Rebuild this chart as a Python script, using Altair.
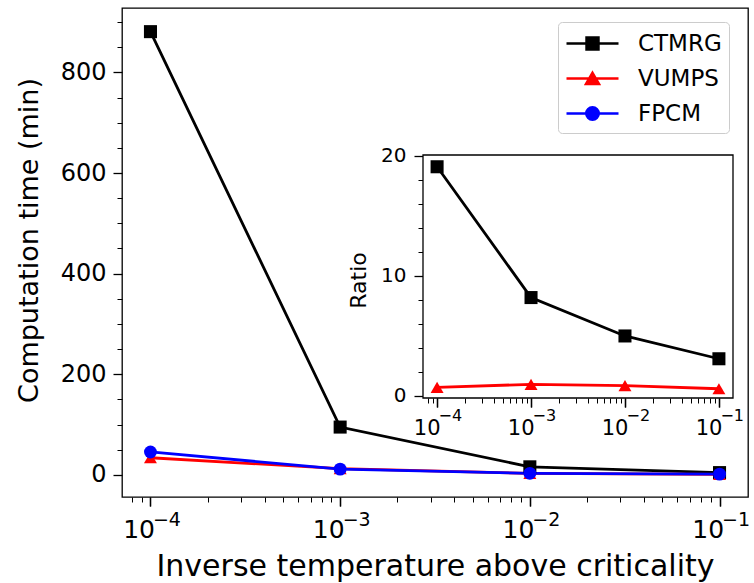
import altair as alt
import pandas as pd

# ---------------- data ----------------
beta = [1e-4, 1e-3, 1e-2, 1e-1]
series_names = ["CTMRG", "VUMPS", "FPCM"]
series_colors = ["#000000", "#ff0000", "#0000ff"]
series_shapes = ["square", "triangle-up", "circle"]

time_ctmrg = [881, 95, 16, 4.5]
time_vumps = [34, 12.5, 2.9, 1.0]
time_fpcm = [45.5, 11.4, 3.1, 1.4]

ratio_ctmrg = [19.1, 8.2, 5.0, 3.1]
ratio_vumps = [0.72, 0.97, 0.86, 0.6]

x_major = [1e-4, 1e-3, 1e-2, 1e-1]
x_minor = [8e-5, 9e-5,
           2e-4, 3e-4, 4e-4, 5e-4, 6e-4, 7e-4, 8e-4, 9e-4,
           2e-3, 3e-3, 4e-3, 5e-3, 6e-3, 7e-3, 8e-3, 9e-3,
           2e-2, 3e-2, 4e-2, 5e-2, 6e-2, 7e-2, 8e-2, 9e-2]
y_major = [0, 200, 400, 600, 800]
y_minor = [50, 100, 150, 250, 300, 350, 450, 500, 550, 650, 700, 750, 850, 900]
r_major = [0, 10, 20]
r_minor = [2, 4, 6, 8, 12, 14, 16, 18]

# legend symbols: line segment with marker (custom SVG paths)
legend_paths = [
    "M-1,0 H3 M0.54,-0.46 H1.46 V0.46 H0.54 Z",
    "M-1,0 H3 M1,-0.44 L1.5,0.42 L0.5,0.42 Z",
    "M-1,0 H3 M1.48,0 A0.48,0.48 0 1,1 0.52,0 A0.48,0.48 0 1,1 1.48,0 Z",
]

rows = []
for name, col, shp, vals in zip(series_names, series_colors, series_shapes,
                                [time_ctmrg, time_vumps, time_fpcm]):
    for b, v in zip(beta, vals):
        rows.append(dict(beta=b, value=v, series=name, col=col, shp=shp))
df_time = pd.DataFrame(rows)

rows = []
for name, col, shp, vals in zip(series_names[:2], series_colors[:2], series_shapes[:2],
                                [ratio_ctmrg, ratio_vumps]):
    for b, v in zip(beta, vals):
        rows.append(dict(beta=b, ratio=v, series=name, col=col, shp=shp))
df_ratio = pd.DataFrame(rows)

# ---------------- geometry ----------------
FONT = "DejaVu Sans"
W, H = 626, 489
X_DOM = [10 ** -4.15, 10 ** -0.85]
Y_DOM = [-44, 928]
R_DOM = [-0.17, 20.08]
INSET_X_RANGE = [301, 611]
INSET_Y_RANGE = [390, 147]
LW = 2.8

base_expr = "'10'"
exp_expr = ("datum.value < 0.0005 ? '\u22124' : datum.value < 0.005 ? '\u22123' : "
            "datum.value < 0.05 ? '\u22122' : '\u22121'")

main_x = alt.Scale(type="log", domain=X_DOM, nice=False)
main_y = alt.Scale(domain=Y_DOM, nice=False, zero=False)

ax_x_major = alt.Axis(values=x_major, labelExpr=base_expr, orient="bottom",
                      title="Inverse temperature above criticality",
                      titleFontSize=30, labelFontSize=25, tickSize=9, tickWidth=1.3,
                      labelAlign="right", labelOffset=4,
                      labelPadding=11, minExtent=40, maxExtent=40, titlePadding=14,
                      domain=False, grid=False)
ax_x_exp = alt.Axis(values=x_major, labelExpr=exp_expr, orient="bottom", title=None,
                    labelFontSize=19, labelAlign="left", labelOffset=2, labelPadding=4,
                    tickSize=9, tickWidth=1.3, domain=False, grid=False)
ax_y_major = alt.Axis(values=y_major, orient="left", title="Computation time (min)",
                      titleFontSize=27, labelFontSize=24, tickSize=9, tickWidth=1.3,
                      labelPadding=7, minExtent=62, maxExtent=62, titlePadding=17,
                      titleY=232, domain=False, grid=False)
ax_x_minor = alt.Axis(values=x_minor, labels=False, orient="bottom", title=None,
                      tickSize=5, tickWidth=1.0, domain=False, grid=False)
ax_y_minor = alt.Axis(values=y_minor, labels=False, orient="left", title=None,
                      tickSize=5, tickWidth=1.0, domain=False, grid=False)

lines = alt.Chart(df_time).mark_line(strokeWidth=LW).encode(
    x=alt.X("beta:Q", scale=main_x, axis=ax_x_major),
    y=alt.Y("value:Q", scale=main_y, axis=ax_y_major),
    color=alt.Color("col:N", scale=None),
    detail="series:N",
)

size_scale = alt.Scale(domain=series_shapes, range=[170, 165, 155])

points = alt.Chart(df_time).mark_point(filled=True, opacity=1).encode(
    x=alt.X("beta:Q", scale=main_x, axis=ax_x_minor),
    y=alt.Y("value:Q", scale=main_y, axis=ax_y_minor),
    color=alt.Color("col:N", scale=None),
    shape=alt.Shape("shp:N", scale=None),
    size=alt.Size("shp:N", scale=size_scale, legend=None),
)

leg = alt.Legend(title=None, orient="none", legendX=436, legendY=14, padding=7,
                 fillColor="white", strokeColor="#cccccc", cornerRadius=4,
                 labelFontSize=23, labelFont=FONT, labelColor="black",
                 symbolSize=676, symbolStrokeWidth=2.5, labelOffset=44,
                 rowPadding=8, symbolOpacity=1)

legend_layer = alt.Chart(df_time).transform_filter(
    "false"
).mark_point(filled=True, opacity=1, strokeWidth=2.5).encode(
    x=alt.X("beta:Q", scale=main_x, axis=ax_x_exp),
    fill=alt.Fill("series:N", scale=alt.Scale(domain=series_names, range=series_colors), legend=leg),
    stroke=alt.Stroke("series:N", scale=alt.Scale(domain=series_names, range=series_colors), legend=leg),
    shape=alt.Shape("series:N", scale=alt.Scale(domain=series_names, range=legend_paths), legend=leg),
)

main = alt.layer(lines, points, legend_layer).resolve_axis(x="independent", y="independent")

# ---------------- inset ----------------
ins_x = alt.Scale(type="log", domain=X_DOM, range=INSET_X_RANGE, nice=False)
ins_y = alt.Scale(domain=R_DOM, range=INSET_Y_RANGE, nice=False, zero=False)

ins_ax_x_major = alt.Axis(values=x_major, labelExpr=base_expr, orient="bottom", offset=-99,
                          title=None, labelFontSize=21, tickSize=9, tickWidth=1.3,
                          labelAlign="right", labelOffset=3,
                          labelPadding=10, domain=False, grid=False)
ins_ax_x_exp = alt.Axis(values=x_major, labelExpr=exp_expr, orient="bottom", offset=-99,
                        title=None, labelFontSize=16, tickSize=9, tickWidth=1.3,
                        labelAlign="left", labelOffset=1,
                        labelPadding=0.5, domain=False, grid=False)
ins_ax_y_major = alt.Axis(values=r_major, orient="left", offset=-301, title="Ratio",
                          titleFontSize=22, labelFontSize=20, tickSize=9, tickWidth=1.3,
                          labelPadding=8, minExtent=42, maxExtent=42, titlePadding=11,
                          titleY=272, domain=False, grid=False)
ins_ax_x_minor = alt.Axis(values=x_minor, labels=False, orient="bottom", offset=-99,
                          title=None, tickSize=5, tickWidth=1.0, domain=False, grid=False)
ins_ax_y_minor = alt.Axis(values=r_minor, labels=False, orient="left", offset=-301,
                          title=None, tickSize=5, tickWidth=1.0, domain=False, grid=False)

frame_df = pd.DataFrame({"x0": [X_DOM[0]], "x1": [X_DOM[1]], "y0": [R_DOM[0]], "y1": [R_DOM[1]]})
frame = alt.Chart(frame_df).mark_rect(fill="white", stroke="black", strokeWidth=1.3).encode(
    x=alt.X("x0:Q", scale=ins_x, axis=ins_ax_x_major),
    x2="x1:Q",
    y=alt.Y("y0:Q", scale=ins_y, axis=ins_ax_y_major),
    y2="y1:Q",
)

ins_lines = alt.Chart(df_ratio).mark_line(strokeWidth=LW).encode(
    x=alt.X("beta:Q", scale=ins_x, axis=ins_ax_x_minor),
    y=alt.Y("ratio:Q", scale=ins_y, axis=ins_ax_y_minor),
    color=alt.Color("col:N", scale=None),
    detail="series:N",
)
ins_points = alt.Chart(df_ratio).mark_point(filled=True, opacity=1).encode(
    x=alt.X("beta:Q", scale=ins_x, axis=ins_ax_x_exp),
    y=alt.Y("ratio:Q", scale=ins_y, axis=None),
    color=alt.Color("col:N", scale=None),
    shape=alt.Shape("shp:N", scale=None),
    size=alt.Size("shp:N", scale=size_scale, legend=None),
)

inset = alt.layer(frame, ins_lines, ins_points).resolve_axis(x="independent", y="independent")

chart = alt.layer(main, inset).resolve_scale(
    x="independent", y="independent"
).properties(
    width=W, height=H,
    padding={"left": 122, "top": 8, "right": 6, "bottom": 86},
    autosize=alt.AutoSizeParams(type="none"),
    background="white",
).configure_view(
    stroke="black", strokeWidth=1.3
).configure_axis(
    labelFont=FONT, titleFont=FONT, labelColor="black", titleColor="black",
    tickColor="black", domainColor="black", grid=False, titleFontWeight="normal",
    labelFlush=False, labelOverlap=False, labelBound=False,
).configure_legend(labelFont=FONT)

chart.save("out.html", embed_options={"renderer": "svg", "actions": False})
